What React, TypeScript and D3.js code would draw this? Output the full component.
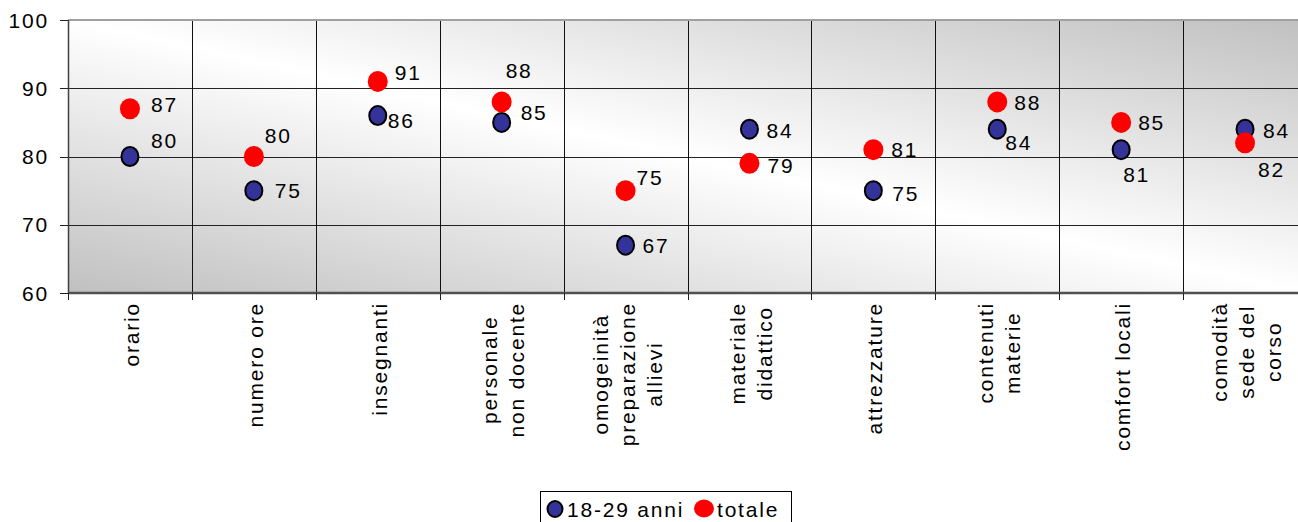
import React, { useEffect, useRef } from "react";
import * as d3 from "d3";

const categories = [
  "orario",
  "numero ore",
  "insegnanti",
  "personale\nnon docente",
  "omogeinità\npreparazione\nallievi",
  "materiale\ndidattico",
  "attrezzature",
  "contenuti\nmaterie",
  "comfort locali",
  "comodità\nsede del\ncorso",
];
const seriesNames = ["18-29 anni", "totale"];
const values1829 = [80, 75, 86, 85, 67, 84, 75, 84, 81, 84];
const valuesTotale = [87, 80, 91, 88, 75, 79, 81, 88, 85, 82];
const yTicks = [60, 70, 80, 90, 100];

// layout: data label offsets (dx, dy) relative to each marker, as placed in the original
const labelOffset1829 = [[21, -16], [21, 0], [10, 5], [19, -10], [17, 0], [17, 1], [19, 3], [8, 13], [2, 25], [18, 1]];
const labelOffsetTotale = [[21, -4], [11, -21], [17, -9], [4, -31], [11, -13], [18, 2], [18, 0], [17, 1], [17, 0], [13, 27]];

const W = 1298;
const H = 522;
const plot = { left: 68, right: 1307, top: 20, bottom: 293 };
const FONT = "'Liberation Sans', Arial, sans-serif";
const FS = 21;
const LS = 1.8;
const BLUE = "#333399";
const RED = "#ff0000";

export default function App() {
  const ref = useRef<SVGSVGElement>(null);

  useEffect(() => {
    const svg = d3.select(ref.current);
    svg.selectAll("*").remove();

    const defs = svg.append("defs");
    const grad = defs
      .append("linearGradient")
      .attr("id", "bgGrad")
      .attr("x1", 0)
      .attr("y1", 1)
      .attr("x2", 1)
      .attr("y2", 0);
    grad.append("stop").attr("offset", 0).attr("stop-color", "#c0c0c0");
    grad.append("stop").attr("offset", 0.5).attr("stop-color", "#ffffff");
    grad.append("stop").attr("offset", 1).attr("stop-color", "#c0c0c0");

    const idx = categories.map((_, i) => i);
    const x = d3.scaleBand<number>().domain(idx).range([plot.left, plot.right]).padding(0);
    const y = d3.scaleLinear().domain([60, 100]).range([plot.bottom, plot.top]);
    const cx = (i: number) => (x(i) as number) + x.bandwidth() / 2;

    // plot area
    svg
      .append("rect")
      .attr("x", plot.left)
      .attr("y", plot.top)
      .attr("width", plot.right - plot.left)
      .attr("height", plot.bottom - plot.top)
      .attr("fill", "url(#bgGrad)");

    // horizontal gridlines
    svg
      .append("g")
      .selectAll("line")
      .data(yTicks.filter((t) => t !== 60 && t !== 100))
      .join("line")
      .attr("x1", plot.left)
      .attr("x2", plot.right)
      .attr("y1", (d) => Math.round(y(d)) + 0.5)
      .attr("y2", (d) => Math.round(y(d)) + 0.5)
      .attr("stroke", "#222")
      .attr("stroke-width", 1);

    // vertical gridlines (category boundaries)
    const bounds = idx.slice(1).map((i) => x(i) as number);
    svg
      .append("g")
      .selectAll("line")
      .data(bounds)
      .join("line")
      .attr("x1", (d) => Math.round(d) + 0.5)
      .attr("x2", (d) => Math.round(d) + 0.5)
      .attr("y1", plot.top)
      .attr("y2", plot.bottom)
      .attr("stroke", "#111")
      .attr("stroke-width", 1);

    // plot border top
    svg
      .append("line")
      .attr("x1", plot.left)
      .attr("x2", plot.right)
      .attr("y1", plot.top)
      .attr("y2", plot.top)
      .attr("stroke", "#a0a0a0")
      .attr("stroke-width", 2);

    // axes lines
    svg
      .append("line")
      .attr("x1", plot.left + 0.5)
      .attr("x2", plot.left + 0.5)
      .attr("y1", plot.top)
      .attr("y2", plot.bottom)
      .attr("stroke", "#404040")
      .attr("stroke-width", 1.5);
    svg
      .append("line")
      .attr("x1", plot.left)
      .attr("x2", plot.right)
      .attr("y1", plot.bottom)
      .attr("y2", plot.bottom)
      .attr("stroke", "#505050")
      .attr("stroke-width", 2.5);

    // y ticks + labels
    const yAxis = svg.append("g");
    yAxis
      .selectAll("line")
      .data(yTicks)
      .join("line")
      .attr("x1", plot.left - 8)
      .attr("x2", plot.left)
      .attr("y1", (d) => Math.round(y(d)) + 0.5)
      .attr("y2", (d) => Math.round(y(d)) + 0.5)
      .attr("stroke", "#222");
    yAxis
      .selectAll("text")
      .data(yTicks)
      .join("text")
      .attr("x", 49)
      .attr("y", (d) => y(d))
      .attr("dy", "0.36em")
      .attr("text-anchor", "end")
      .attr("font-family", FONT)
      .attr("font-size", FS)
      .attr("letter-spacing", LS)
      .attr("fill", "#000")
      .text((d) => String(d));

    // x ticks
    const xTickPos = [plot.left, ...bounds];
    svg
      .append("g")
      .selectAll("line")
      .data(xTickPos)
      .join("line")
      .attr("x1", (d) => Math.round(d) + 0.5)
      .attr("x2", (d) => Math.round(d) + 0.5)
      .attr("y1", plot.bottom)
      .attr("y2", plot.bottom + 7)
      .attr("stroke", "#222");

    // category labels, rotated, multi-line centered block, top aligned
    const catG = svg.append("g");
    categories.forEach((cat, i) => {
      const lines = cat.split("\n");
      const n = lines.length;
      const g = catG.append("g");
      const texts = lines.map((ln) =>
        g
          .append("text")
          .attr("font-family", FONT)
          .attr("font-size", FS)
          .attr("letter-spacing", LS)
          .attr("text-anchor", "middle")
          .attr("fill", "#000")
          .text(ln)
      );
      const lens = texts.map((t) => (t.node() as SVGTextElement).getComputedTextLength());
      const L = Math.max(...lens);
      texts.forEach((t, k) => {
        const bx = cx(i) + 9 + (k - (n - 1) / 2) * 27;
        const by = 302 + L / 2;
        t.attr("transform", `translate(${bx},${by}) rotate(-90)`);
      });
    });

    // markers
    const series = [
      { vals: values1829, offs: labelOffset1829, fill: BLUE, stroke: "#000", sw: 2, rx: 8.5, ry: 9.5 },
      { vals: valuesTotale, offs: labelOffsetTotale, fill: RED, stroke: "none", sw: 0, rx: 10, ry: 10.5 },
    ];
    series.forEach((s) => {
      svg
        .append("g")
        .selectAll("ellipse")
        .data(s.vals)
        .join("ellipse")
        .attr("cx", (_, i) => cx(i))
        .attr("cy", (d) => y(d))
        .attr("rx", s.rx)
        .attr("ry", s.ry)
        .attr("fill", s.fill)
        .attr("stroke", s.stroke)
        .attr("stroke-width", s.sw);
    });
    series.forEach((s) => {
      svg
        .append("g")
        .selectAll("text")
        .data(s.vals)
        .join("text")
        .attr("x", (_, i) => cx(i) + s.offs[i][0])
        .attr("y", (d, i) => y(d) + s.offs[i][1])
        .attr("dy", "0.36em")
        .attr("font-family", FONT)
        .attr("font-size", FS)
        .attr("letter-spacing", LS)
        .attr("fill", "#000")
        .text((d) => String(d));
    });

    // legend
    const lg = svg.append("g");
    lg.append("rect")
      .attr("x", 540.5)
      .attr("y", 491.5)
      .attr("width", 251)
      .attr("height", 40)
      .attr("fill", "#fff")
      .attr("stroke", "#000")
      .attr("stroke-width", 1);
    lg.append("ellipse")
      .attr("cx", 555)
      .attr("cy", 509)
      .attr("rx", 7.5)
      .attr("ry", 8)
      .attr("fill", BLUE)
      .attr("stroke", "#000")
      .attr("stroke-width", 2);
    lg.append("ellipse")
      .attr("cx", 704)
      .attr("cy", 508.5)
      .attr("rx", 10)
      .attr("ry", 9)
      .attr("fill", RED);
    const legX = [567, 717];
    seriesNames.forEach((nm, k) => {
      lg.append("text")
        .attr("x", legX[k])
        .attr("y", 509)
        .attr("dy", "0.36em")
        .attr("font-family", FONT)
        .attr("font-size", FS)
        .attr("letter-spacing", LS)
        .attr("fill", "#000")
        .text(nm);
    });
  }, []);

  return (
    <svg
      ref={ref}
      width={W}
      height={H}
      style={{ position: "absolute", left: 0, top: 0, background: "#fff", display: "block" }}
    />
  );
}
